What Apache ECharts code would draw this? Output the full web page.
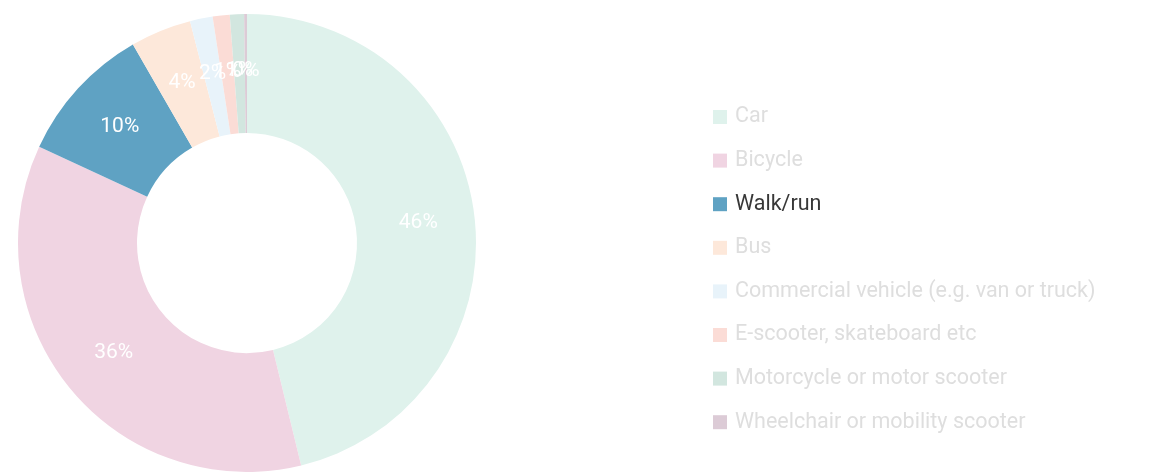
<!DOCTYPE html>
<html>
<head>
<meta charset="utf-8">
<script src="https://cdn.jsdelivr.net/npm/echarts@6/dist/echarts.min.js"></script>
<style>
html,body{margin:0;padding:0;background:#fff;}
#chart{width:1162px;height:472px;}
</style>
</head>
<body>
<div id="chart"></div>
<script>
const categories = ["Car", "Bicycle", "Walk/run", "Bus", "Commercial vehicle (e.g. van or truck)", "E-scooter, skateboard etc", "Motorcycle or motor scooter", "Wheelchair or mobility scooter"];
const values = [46.2, 35.7, 9.8, 4.3, 1.6, 1.2, 1.0, 0.2];
const colors = ["#dff2ec", "#f0d4e2", "#5fa2c3", "#fde8da", "#e8f3fa", "#fbdcd6", "#d2e6df", "#dccbd6"];
const highlighted = "Walk/run";

const chart = echarts.init(document.getElementById('chart'));
chart.setOption({
  animation: false,
  legend: {
    orient: 'vertical',
    left: 708,
    top: 101,
    itemWidth: 14,
    itemHeight: 14,
    itemGap: 21.6,
    icon: 'rect',
    selectedMode: false,
    textStyle: { fontFamily: 'Roboto', fontSize: 21.5, lineHeight: 22, color: '#dedede', padding: [0,0,0,3] },
    data: categories.map(c => ({ name: c, textStyle: { color: c === highlighted ? '#383838' : '#dedede' } }))
  },
  series: [{
    type: 'pie',
    center: [247, 243],
    radius: [110, 229],
    startAngle: 90,
    clockwise: true,
    percentPrecision: 0,
    emphasis: { disabled: true },
    label: {
      show: true,
      position: 'inside',
      formatter: '{d}%',
      color: '#ffffff',
      fontFamily: 'Roboto',
      fontSize: 21
    },
    labelLayout: { hideOverlap: false },
    labelLine: { show: false },
    data: categories.map((c, i) => ({ name: c, value: values[i], itemStyle: { color: colors[i] } }))
  }]
});
</script>
</body>
</html>
